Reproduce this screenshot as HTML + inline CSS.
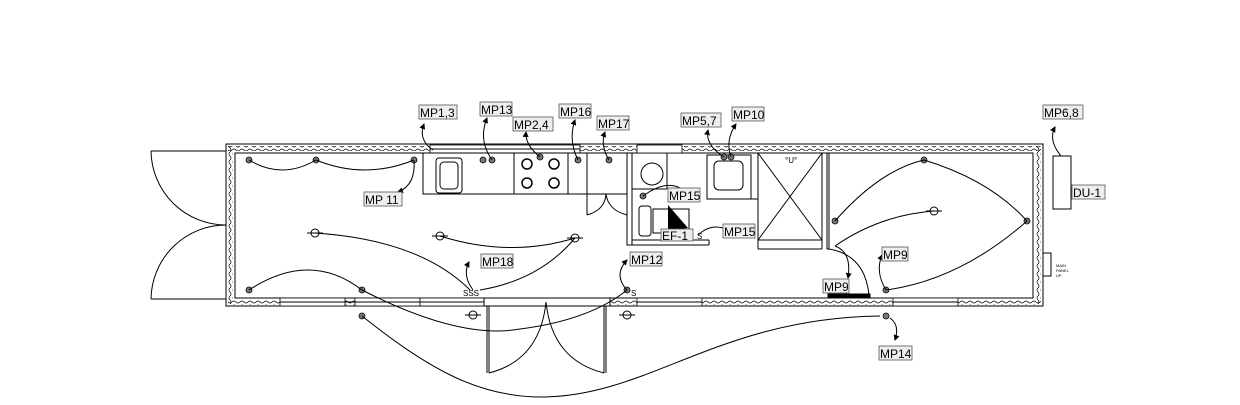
<!DOCTYPE html>
<html><head><meta charset="utf-8"><style>
html,body{margin:0;padding:0;background:#fff;width:1240px;height:405px;overflow:hidden}
svg{display:block}
.l{fill:none;stroke:#000;stroke-width:1}
.lb rect{fill:#eeeeee;stroke:#555;stroke-width:0.8}
.lb text{font-family:"Liberation Sans",sans-serif;font-size:12px;fill:#000}
.fx{fill:#777;stroke:#000;stroke-width:0.8}
</style></head><body>
<svg width="1240" height="405" viewBox="0 0 1240 405" xmlns="http://www.w3.org/2000/svg">
<defs>
<pattern id="wv" width="8" height="4" patternUnits="userSpaceOnUse"><path d="M0 2 Q2 0 4 2 T8 2" fill="none" stroke="#000" stroke-width="0.7"/></pattern>
<pattern id="wvv" width="4" height="8" patternUnits="userSpaceOnUse"><path d="M2 0 Q0 2 2 4 T2 8" fill="none" stroke="#000" stroke-width="0.7"/></pattern>
<marker id="ar" markerWidth="6" markerHeight="6" refX="5" refY="3" orient="auto"><path d="M0 0 L6 3 L0 6Z" fill="#000"/></marker>
</defs>
<rect x="226" y="144" width="817" height="162" class="l" stroke-width="1.5"/>
<rect x="235" y="153" width="798" height="145" class="l" stroke-width="1.5"/>
<rect x="228" y="146" width="813" height="5" fill="url(#wv)"/>
<rect x="228" y="300" width="813" height="5" fill="url(#wv)"/>
<rect x="228" y="146" width="5" height="158" fill="url(#wvv)"/>
<rect x="1036" y="146" width="5" height="158" fill="url(#wvv)"/>
<g fill="#fff" stroke="#000" stroke-width="0.8">
<rect x="430" y="145" width="150" height="8"/><rect x="637" y="145" width="45" height="8"/>
<rect x="280" y="298" width="65" height="8"/><rect x="355" y="298" width="65" height="8"/><rect x="420" y="298" width="65" height="8"/>
<rect x="637" y="298" width="65" height="8"/><rect x="893" y="298" width="65" height="8"/>
</g>
<g class="l"><line x1="430" y1="149" x2="580" y2="149"/><line x1="280" y1="302" x2="485" y2="302"/><line x1="637" y1="302" x2="702" y2="302"/><line x1="893" y1="302" x2="958" y2="302"/></g>
<g class="l"><line x1="151" y1="151" x2="226" y2="151"/><line x1="151" y1="299" x2="226" y2="299"/>
<path d="M151 151 A75 75 0 0 0 226 225"/><path d="M226 225 A75 75 0 0 0 151 299"/></g>
<g class="l"><rect x="484" y="298" width="126" height="8" fill="#fff"/><line x1="487" y1="306" x2="487" y2="373"/><line x1="489" y1="306" x2="489" y2="373"/>
<line x1="604" y1="306" x2="604" y2="373"/><line x1="606" y1="306" x2="606" y2="373"/>
<path d="M489 373 Q540 360 546 302"/><path d="M604 373 Q552 360 546 302"/></g>
<g class="l">
<rect x="423" y="153" width="164" height="41"/><rect x="436" y="158" width="26" height="35" rx="3"/><rect x="440" y="162" width="18" height="27" rx="4"/>
<rect x="514" y="153" width="54" height="41"/>
<circle cx="527" cy="164" r="5" stroke-width="1.5"/><circle cx="554" cy="164" r="5" stroke-width="1.5"/><circle cx="527" cy="183" r="5" stroke-width="1.5"/><circle cx="554" cy="183" r="5" stroke-width="1.5"/>
<rect x="587" y="153" width="40" height="41"/><line x1="587" y1="194" x2="587" y2="215"/><path d="M587 215 Q605 210 606 194"/><path d="M627 215 Q608 210 606 194"/>
<rect x="627" y="153" width="5" height="92"/><line x1="632" y1="240" x2="709" y2="240"/><line x1="627" y1="245" x2="709" y2="245"/><line x1="709" y1="240" x2="709" y2="245"/>
<line x1="667" y1="153" x2="667" y2="189"/><line x1="632" y1="189" x2="667" y2="189"/>
<circle cx="652" cy="174" r="11"/><rect x="639" y="206" width="12" height="30" rx="3"/><rect x="653" y="209" width="36" height="24"/>
<rect x="707" y="155" width="44" height="44"/><rect x="714" y="161" width="29" height="29" rx="5"/><line x1="751" y1="199" x2="758" y2="199"/>
<rect x="758" y="153" width="64" height="87"/><line x1="758" y1="153" x2="822" y2="240"/><line x1="822" y1="153" x2="758" y2="240"/>
<line x1="758" y1="240" x2="758" y2="249"/><line x1="758" y1="249" x2="822" y2="249"/><line x1="822" y1="249" x2="822" y2="240"/>
<rect x="827" y="153" width="2" height="96"/>
<path d="M829 249 Q865 255 869 295"/><rect x="828" y="294" width="42" height="4" fill="#000"/>
<rect x="1053" y="156" width="18" height="53"/><rect x="1043" y="253" width="8" height="23"/>
</g>
<path d="M668 205 L688 228 L668 232Z" fill="#000"/>
<g class="fx">
<circle cx="249" cy="160" r="3"/><circle cx="316" cy="160" r="3"/><circle cx="414" cy="160" r="3"/>
<circle cx="483" cy="160" r="3"/><circle cx="492" cy="160" r="3"/><circle cx="540" cy="157" r="3"/><circle cx="578" cy="160" r="3"/><circle cx="609" cy="160" r="3"/>
<circle cx="724" cy="157" r="3"/><circle cx="731" cy="157" r="3"/><circle cx="643" cy="196" r="3"/>
<circle cx="924" cy="160" r="3"/><circle cx="835" cy="221" r="3"/><circle cx="1027" cy="221" r="3"/><circle cx="886" cy="290" r="3"/><circle cx="886" cy="316" r="3"/>
<circle cx="249" cy="290" r="3"/><circle cx="362" cy="290" r="3"/><circle cx="362" cy="316" r="3"/><circle cx="627" cy="290" r="3"/>
</g>
<g class="l">
<circle cx="315" cy="233" r="4"/><circle cx="440" cy="236" r="4"/><circle cx="575" cy="238" r="4"/><circle cx="934" cy="211" r="4"/><circle cx="473" cy="315" r="4"/><circle cx="627" cy="315" r="4"/>
<line x1="307" y1="233" x2="323" y2="233"/><line x1="432" y1="236" x2="448" y2="236"/><line x1="567" y1="238" x2="583" y2="238"/><line x1="926" y1="211" x2="942" y2="211"/><line x1="465" y1="315" x2="481" y2="315"/><line x1="619" y1="315" x2="635" y2="315"/>
</g>
<g class="l">
<path d="M249 160 Q282 180 316 160"/><path d="M316 160 Q365 180 414 160"/>
<path d="M315 233 Q420 240 470 290"/><path d="M440 236 Q510 258 575 238"/><path d="M575 238 Q540 280 480 290"/>
<path d="M249 290 Q310 250 362 290"/><path d="M362 290 Q460 340 520 329 Q590 320 627 290"/>
<path d="M362 316 C430 370 480 398 545 397 C650 395 720 318 880 316"/>
<path d="M835 221 Q880 170 924 160 Q990 180 1027 221 Q960 280 886 290"/><path d="M835 246 Q880 215 934 211"/>
<path d="M643 196 Q665 180 680 188"/>
</g>
<g class="l" marker-end="url(#ar)">
<path d="M414 160 Q416 185 398 192"/><path d="M433 150 Q418 140 424 124"/><path d="M492 160 Q478 140 487 118"/>
<path d="M540 157 Q525 145 526 132"/><path d="M578 160 Q568 140 575 120"/><path d="M609 160 Q600 145 605 132"/>
<path d="M724 157 Q705 145 708 130"/><path d="M731 157 Q725 140 736 124"/><path d="M1061 156 Q1048 140 1055 127"/>
<path d="M473 290 Q462 275 469 262"/><path d="M627 290 Q613 275 627 260"/><path d="M698 235 Q712 222 728 230"/>
<path d="M835 246 Q852 252 848 278"/><path d="M886 290 Q875 272 882 255"/><path d="M890 318 Q900 325 895 340"/>
</g>
<g class="lb">
<rect x="419" y="105" width="38" height="14"/><text x="420" y="117">MP1,3</text>
<rect x="480" y="102" width="32" height="14"/><text x="481" y="114">MP13</text>
<rect x="513" y="117" width="40" height="14"/><text x="514" y="129">MP2,4</text>
<rect x="559" y="104" width="32" height="14"/><text x="560" y="116">MP16</text>
<rect x="597" y="116" width="32" height="14"/><text x="598" y="128">MP17</text>
<rect x="681" y="113" width="40" height="14"/><text x="682" y="125">MP5,7</text>
<rect x="732" y="107" width="32" height="14"/><text x="733" y="119">MP10</text>
<rect x="1043" y="105" width="40" height="14"/><text x="1044" y="117">MP6,8</text>
<rect x="364" y="192" width="38" height="14"/><text x="365" y="204">MP  11</text>
<rect x="668" y="188" width="32" height="14"/><text x="669" y="200">MP15</text>
<rect x="723" y="224" width="32" height="14"/><text x="724" y="236">MP15</text>
<rect x="661" y="229" width="32" height="12"/><text x="662" y="240">EF-1</text>
<rect x="1072" y="185" width="33" height="14"/><text x="1073" y="197">DU-1</text>
<rect x="481" y="254" width="32" height="14"/><text x="482" y="266">MP18</text>
<rect x="630" y="252" width="32" height="14"/><text x="631" y="264">MP12</text>
<rect x="882" y="247" width="26" height="14"/><text x="883" y="259">MP9</text>
<rect x="823" y="279" width="26" height="14"/><text x="824" y="291">MP9</text>
<rect x="879" y="346" width="33" height="14"/><text x="880" y="358">MP14</text>
</g>
<g font-family="Liberation Sans,sans-serif" font-size="8" fill="#000">
<text x="463" y="296">SSS</text><text x="631" y="296">S</text><text x="697" y="239">S</text><text x="785" y="163">°U°</text>
<text x="1056" y="267" font-size="4">MAIN</text><text x="1056" y="272" font-size="4">PANEL</text><text x="1056" y="277" font-size="4">UP</text>
</g>
</svg>
</body></html>
